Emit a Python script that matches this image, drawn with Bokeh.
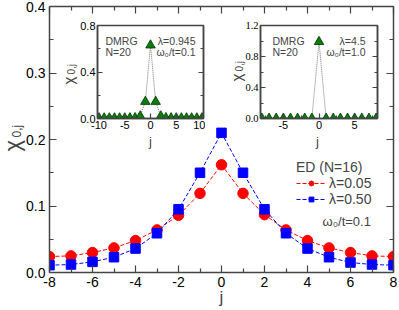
from bokeh.plotting import figure
from bokeh.models import (LinearAxis, FixedTicker, PrintfTickFormatter, Label,
                          Legend, LegendItem, Range1d)
from bokeh.embed import file_html
from bokeh.resources import INLINE

FONT = "Liberation Sans"
AX = "#444444"

# ---------------- data ----------------
j_ed = [-8, -7, -6, -5, -4, -3, -2, -1, 0, 1, 2, 3, 4, 5, 6, 7, 8]
chi_lam005 = [0.024, 0.025, 0.030, 0.037, 0.048, 0.064, 0.086, 0.119, 0.162,
              0.119, 0.087, 0.064, 0.048, 0.037, 0.030, 0.025, 0.024]
chi_lam050 = [0.011, 0.012, 0.016, 0.023, 0.036, 0.059, 0.095, 0.150, 0.210,
              0.150, 0.095, 0.059, 0.036, 0.023, 0.015, 0.012, 0.011]

j_dmrg1 = [-10, -9, -8, -7, -6, -5, -4, -3, -2, -1, 0, 1, 2, 3, 4, 5, 6, 7, 8, 9, 10]
chi_dmrg1 = [0.003, 0.003, 0.003, 0.003, 0.003, 0.003, 0.004, 0.005, 0.02, 0.145, 0.63,
             0.145, 0.02, 0.005, 0.004, 0.003, 0.003, 0.003, 0.003, 0.003, 0.003]

j_dmrg2 = [-8, -7, -6, -5, -4, -3, -2, -1, 0, 1, 2, 3, 4, 5, 6, 7, 8]
chi_dmrg2 = [0.0, 0.0, 0.0, 0.0, 0.0, 0.0, 0.0, 0.0, 0.99,
             0.0, 0.0, 0.0, 0.0, 0.0, 0.0, 0.0, 0.0]

main_xticks = [-8, -6, -4, -2, 0, 2, 4, 6, 8]
main_xminor = [-7, -5, -3, -1, 1, 3, 5, 7]
main_yticks = [0.0, 0.1, 0.2, 0.3, 0.4]
main_yminor = [0.05, 0.15, 0.25, 0.35]

in1_xticks = [-10, -5, 0, 5, 10]
in1_xminor = [-7.5, -2.5, 2.5, 7.5]
in1_yticks = [0.0, 0.4, 0.8]
in1_yminor = [0.2, 0.6]

in2_xticks = [-5, 0, 5]
in2_xminor = [-7.5, -2.5, 2.5, 7.5]
in2_yticks = [0.0, 0.4, 0.8, 1.2]
in2_yminor = [0.2, 0.6, 1.0]


def style_axis(ax, ticks, minor, fmt, fsize, tin, tmin, show=True, font=FONT, standoff=4):
    ax.ticker = FixedTicker(ticks=ticks, minor_ticks=minor)
    ax.formatter = PrintfTickFormatter(format=fmt)
    ax.major_tick_in = tin
    ax.major_tick_out = 0
    ax.minor_tick_in = tmin
    ax.minor_tick_out = 0
    ax.axis_line_color = AX
    ax.axis_line_width = 1.5
    ax.major_tick_line_color = AX
    ax.minor_tick_line_color = AX
    ax.major_tick_line_width = 1.2
    ax.minor_tick_line_width = 1.2
    ax.major_label_text_font = font
    ax.major_label_standoff = standoff
    if show:
        ax.major_label_text_font_size = fsize
        ax.major_label_text_color = "black"
    else:
        ax.major_label_text_font_size = "1px"
        ax.major_label_text_color = None
        ax.major_label_standoff = 0


# ---------------- main figure ----------------
p = figure(width=399, height=310, x_range=Range1d(-8, 8), y_range=Range1d(0, 0.4),
           output_backend="svg", toolbar_location=None,
           min_border_left=49, min_border_right=6, min_border_top=6, min_border_bottom=38)
p.styles = {"position": "absolute", "left": "0px", "top": "0px"}
p.outline_line_color = None
p.grid.visible = False
p.add_layout(LinearAxis(), "above")
p.add_layout(LinearAxis(), "right")
style_axis(p.below[0], main_xticks, main_xminor, "%d", "14px", 7, 4, standoff=4)
style_axis(p.left[0], main_yticks, main_yminor, "%.1f", "14px", 7, 4, standoff=4)
style_axis(p.above[0], main_xticks, main_xminor, "%d", "14px", 7, 4, show=False)
style_axis(p.right[0], main_yticks, main_yminor, "%.1f", "14px", 7, 4, show=False)

l1 = p.line(j_ed, chi_lam005, line_color="red", line_dash="4 2", line_width=1)
s1 = p.scatter(j_ed, chi_lam005, marker="circle", size=10.5, fill_color="red", line_color="red")
l2 = p.line(j_ed, chi_lam050, line_color="blue", line_dash="4 2", line_width=1)
s2 = p.scatter(j_ed, chi_lam050, marker="square", size=9.5, fill_color="blue", line_color="blue")

legend = Legend(items=[LegendItem(label="λ=0.05", renderers=[l1, s1]),
                       LegendItem(label="λ=0.50", renderers=[l2, s2])],
                title="ED (N=16)", location=(247, 65))
legend.title_text_font = FONT
legend.title_text_font_size = "14px"
legend.title_text_font_style = "normal"
legend.title_text_line_height = 1.0
legend.title_standoff = -7
legend.label_text_font = FONT
legend.label_text_font_size = "14px"
legend.label_text_line_height = 1.0
legend.label_standoff = 3
legend.label_height = 14
legend.glyph_width = 30
legend.glyph_height = 12
legend.spacing = 0
legend.padding = 2
legend.margin = 0
legend.border_line_color = None
legend.background_fill_alpha = 0
p.add_layout(legend)

p.add_layout(Label(x=8, y=0.0, x_offset=-71, y_offset=51, text="ω₀/t=0.1",
                   text_font=FONT, text_font_size="13px", text_align="left",
                   text_baseline="middle"))


# ---------------- insets ----------------
def make_inset(left, width, mbl, xr, yr, xt, xm, yt, ym, xs, ys, ylab_font, ylab_size):
    f = figure(width=width, height=136, x_range=xr, y_range=yr,
               output_backend="svg", toolbar_location=None,
               min_border_left=mbl, min_border_right=2, min_border_top=11, min_border_bottom=32)
    f.styles = {"position": "absolute", "left": f"{left}px", "top": "14px"}
    f.grid.visible = False
    f.border_fill_color = None
    f.outline_line_color = AX
    f.outline_line_width = 1.5
    f.add_layout(LinearAxis(), "right")
    style_axis(f.below[0], xt, xm, "%d", "11px", 5, 3, standoff=2)
    style_axis(f.left[0], yt, ym, "%.1f", ylab_size, 5, 3, font=ylab_font, standoff=2)
    style_axis(f.right[0], yt, ym, "%.1f", "11px", 5, 3, show=False)
    f.line(xs, ys, line_color="#777777", line_dash="1 1", line_width=1)
    f.scatter(xs, ys, marker="triangle", size=9.5, fill_color="#0a7d0a", line_color="#003300",
              line_width=0.8)
    return f


in1 = make_inset(58, 147, 39, Range1d(-10.3, 10.3), Range1d(0, 0.8),
                 in1_xticks, in1_xminor, in1_yticks, in1_yminor, j_dmrg1, chi_dmrg1,
                 FONT, "11px")
in2 = make_inset(224, 155, 36, Range1d(-8.2, 8.2), Range1d(0, 1.2),
                 in2_xticks, in2_xminor, in2_yticks, in2_yminor, j_dmrg2, chi_dmrg2,
                 "Liberation Serif", "10.5px")


def inset_texts(f, ltxt, rtxt, lx, rx):
    xs, xe, ye = f.x_range.start, f.x_range.end, f.y_range.end
    for i, t in enumerate(ltxt):
        f.add_layout(Label(x=xs, y=ye, x_offset=lx, y_offset=-15 - 11 * i, text=t,
                           text_font=FONT, text_font_size="10.5px", text_align="left",
                           text_baseline="middle"))
    for i, t in enumerate(rtxt):
        f.add_layout(Label(x=xe, y=ye, x_offset=rx, y_offset=-15 - 11 * i, text=t,
                           text_font=FONT, text_font_size="10.5px", text_align="right",
                           text_baseline="middle"))


inset_texts(in1, ["DMRG", "N=20"], ["λ=0.945", "ω₀/t=0.1"], 8, -8)
inset_texts(in2, ["DMRG", "N=20"], ["λ=4.5", "ω₀/t=1.0"], 12, -12)

# ---------------- overlay for axis titles (page-pixel coordinates) ----------------
ov = figure(width=399, height=310, x_range=Range1d(0, 399), y_range=Range1d(310, 0),
            output_backend="svg", toolbar_location=None,
            x_axis_location=None, y_axis_location=None,
            min_border_left=0, min_border_right=0, min_border_top=0, min_border_bottom=0)
ov.styles = {"position": "absolute", "left": "0px", "top": "0px", "pointer-events": "none"}
ov.grid.visible = False
ov.outline_line_color = None
ov.background_fill_color = None
ov.border_fill_color = None


def otext(x, y, txt, size, angle=0, align="center", baseline="middle"):
    ov.add_layout(Label(x=x, y=y, text=txt, text_font=FONT, text_font_size=size,
                        angle=angle, angle_units="deg", text_align=align,
                        text_baseline=baseline))


# main axis titles
otext(221, 297, "j", "17px")
otext(12, 151, "χ", "22px", angle=90, align="left", baseline="alphabetic")
otext(16, 137, "0,j", "12px", angle=90, align="left", baseline="alphabetic")
# inset 1 axis titles
otext(150, 141, "j", "13px")
otext(68, 84, "χ", "15px", angle=90, align="left", baseline="alphabetic")
otext(71, 74, "0,j", "10px", angle=90, align="left", baseline="alphabetic")
# inset 2 axis titles
otext(317, 141, "j", "13px")
otext(236, 81, "χ", "15px", angle=90, align="left", baseline="alphabetic")
otext(239, 71, "0,j", "10px", angle=90, align="left", baseline="alphabetic")

open("out.html", "w").write(file_html([p, in1, in2, ov], INLINE))
